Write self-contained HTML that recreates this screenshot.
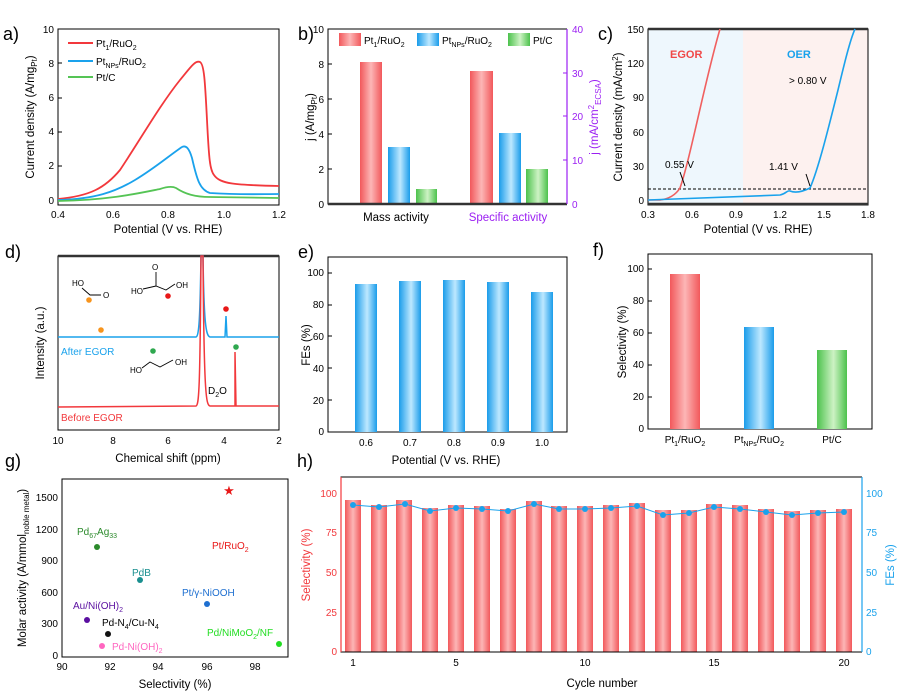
<!DOCTYPE html>
<html><head><meta charset="utf-8"><style>
body{margin:0;background:#fff}
svg{display:block;font-family:"Liberation Sans",sans-serif}
</style></head><body>
<svg width="912" height="699" viewBox="0 0 912 699" xmlns="http://www.w3.org/2000/svg">
<defs>
<linearGradient id="gr" x1="0" x2="1"><stop offset="0" stop-color="#f2585b"/><stop offset=".5" stop-color="#fcb6b6"/><stop offset="1" stop-color="#f2585b"/></linearGradient>
<linearGradient id="gb" x1="0" x2="1"><stop offset="0" stop-color="#1a9cea"/><stop offset=".55" stop-color="#bde8ff"/><stop offset="1" stop-color="#1a9cea"/></linearGradient>
<linearGradient id="gg" x1="0" x2="1"><stop offset="0" stop-color="#4cc24c"/><stop offset=".55" stop-color="#cdf2c4"/><stop offset="1" stop-color="#4cc24c"/></linearGradient>
</defs>
<g font-size="10" fill="#000">
<!-- ===== a ===== -->
<text x="3" y="40" font-size="18">a)</text>
<rect x="58" y="29" width="221" height="176" fill="none" stroke="#000"/>
<g text-anchor="end" font-size="10"><text x="54" y="204">0</text><text x="54" y="169">2</text><text x="54" y="135">4</text><text x="54" y="101">6</text><text x="54" y="67">8</text><text x="54" y="33">10</text></g>
<g stroke="#000"><line x1="58" y1="200" x2="62" y2="200"/><line x1="58" y1="166" x2="62" y2="166"/><line x1="58" y1="132" x2="62" y2="132"/><line x1="58" y1="98" x2="62" y2="98"/><line x1="58" y1="63" x2="62" y2="63"/></g>
<g text-anchor="middle" font-size="10"><text x="58" y="218">0.4</text><text x="113" y="218">0.6</text><text x="168" y="218">0.8</text><text x="224" y="218">1.0</text><text x="279" y="218">1.2</text></g>
<text x="168" y="233" text-anchor="middle" font-size="11.5">Potential (V vs. RHE)</text>
<text transform="translate(34,117) rotate(-90)" text-anchor="middle" font-size="11.5">Current density (A/mg<tspan font-size="8" dy="3">Pt</tspan><tspan dy="-3">)</tspan></text>
<path d="M58,199 C90,196 105,188 120,170 C140,140 160,105 180,80 C190,68 195,60 200,62 C204,64 205,80 207,120 C209,160 210,170 214,175 C220,184 235,185 279,186" fill="none" stroke="#f2383c" stroke-width="1.8"/>
<path d="M58,200 C95,199 115,192 135,180 C155,168 170,155 182,147 C186,145 189,148 192,158 C197,180 200,190 210,193 C240,195 260,194 279,194" fill="none" stroke="#1aa2ec" stroke-width="1.8"/>
<path d="M58,201 C110,200 140,193 160,189 C166,187 172,186 176,188 C185,194 195,197 210,197 L279,198" fill="none" stroke="#55c455" stroke-width="1.8"/>
<line x1="68" y1="43" x2="93" y2="43" stroke="#f2383c" stroke-width="2"/><text x="96" y="47">Pt<tspan font-size="7" dy="3">1</tspan><tspan dy="-3">/RuO</tspan><tspan font-size="7" dy="3">2</tspan></text>
<line x1="68" y1="61" x2="93" y2="61" stroke="#1aa2ec" stroke-width="2"/><text x="96" y="65">Pt<tspan font-size="7" dy="3">NPs</tspan><tspan dy="-3">/RuO</tspan><tspan font-size="7" dy="3">2</tspan></text>
<line x1="68" y1="77" x2="93" y2="77" stroke="#55c455" stroke-width="2"/><text x="96" y="81">Pt/C</text>

<!-- ===== b ===== -->
<text x="298" y="40" font-size="18">b)</text>
<rect x="360" y="62" width="22" height="142" fill="url(#gr)"/>
<rect x="388" y="147" width="22" height="57" fill="url(#gb)"/>
<rect x="416" y="189" width="21" height="15" fill="url(#gg)"/>
<rect x="470" y="71" width="23" height="133" fill="url(#gr)"/>
<rect x="499" y="133" width="22" height="71" fill="url(#gb)"/>
<rect x="526" y="169" width="22" height="35" fill="url(#gg)"/>
<rect x="339" y="33" width="22" height="13" fill="url(#gr)"/><text x="364" y="44">Pt<tspan font-size="7" dy="3">1</tspan><tspan dy="-3">/RuO</tspan><tspan font-size="7" dy="3">2</tspan></text>
<rect x="417" y="33" width="22" height="13" fill="url(#gb)"/><text x="442" y="44">Pt<tspan font-size="7" dy="3">NPs</tspan><tspan dy="-3">/RuO</tspan><tspan font-size="7" dy="3">2</tspan></text>
<rect x="508" y="33" width="22" height="13" fill="url(#gg)"/><text x="533" y="44">Pt/C</text>
<polyline points="567,29 328,29 328,204 567,204" fill="none" stroke="#000"/>
<line x1="328" y1="204" x2="567" y2="204" stroke="#333" stroke-width="2.5"/>
<line x1="567" y1="29" x2="567" y2="204" stroke="#9b1ff2" stroke-width="1.2"/>
<g text-anchor="end" font-size="10"><text x="324" y="208">0</text><text x="324" y="173">2</text><text x="324" y="138">4</text><text x="324" y="103">6</text><text x="324" y="68">8</text><text x="324" y="33">10</text></g>
<g stroke="#000"><line x1="328" y1="169" x2="332" y2="169"/><line x1="328" y1="134" x2="332" y2="134"/><line x1="328" y1="99" x2="332" y2="99"/><line x1="328" y1="64" x2="332" y2="64"/></g>
<g font-size="10" fill="#9b1ff2"><text x="572" y="208">0</text><text x="572" y="164">10</text><text x="572" y="120">20</text><text x="572" y="77">30</text><text x="572" y="33">40</text></g>
<g stroke="#9b1ff2"><line x1="563" y1="160" x2="567" y2="160"/><line x1="563" y1="116" x2="567" y2="116"/><line x1="563" y1="73" x2="567" y2="73"/></g>
<text x="396" y="221" text-anchor="middle" font-size="11.5">Mass activity</text>
<text x="508" y="221" text-anchor="middle" font-size="11.5" fill="#9b1ff2">Specific activity</text>
<text transform="translate(314,117) rotate(-90)" text-anchor="middle" font-size="11.5">j (A/mg<tspan font-size="8" dy="3">Pt</tspan><tspan dy="-3">)</tspan></text>
<text transform="translate(598,117) rotate(-90)" text-anchor="middle" font-size="11.5" fill="#9b1ff2">j (mA/cm<tspan font-size="8" dy="-4">2</tspan><tspan font-size="8" dy="7">ECSA</tspan><tspan dy="-3">)</tspan></text>

<!-- ===== c ===== -->
<text x="598" y="40" font-size="18">c)</text>
<rect x="648" y="29" width="95" height="176" fill="#eef7fd"/>
<rect x="743" y="29" width="125" height="176" fill="#fdf1ef"/>
<rect x="648" y="29" width="220" height="176" fill="none" stroke="#000"/>
<line x1="648" y1="29" x2="868" y2="29" stroke="#333" stroke-width="2.5"/>
<line x1="648" y1="204" x2="868" y2="204" stroke="#333" stroke-width="2.5"/>
<line x1="648" y1="189" x2="868" y2="189" stroke="#000" stroke-dasharray="3,2"/>
<path d="M648,200 L660,200 C668,199 675,196 680,188 C690,160 705,80 720,29" fill="none" stroke="#f06060" stroke-width="1.6"/>
<path d="M648,200 C700,198 760,196 780,195 C786,194 787,190 790,191 C795,193 802,192 810,188 C818,170 828,130 838,90 C844,65 850,40 855,29" fill="none" stroke="#1aa2ec" stroke-width="1.6"/>
<g text-anchor="end" font-size="10"><text x="644" y="204">0</text><text x="644" y="170">30</text><text x="644" y="136">60</text><text x="644" y="101">90</text><text x="644" y="67">120</text><text x="644" y="33">150</text></g>
<g text-anchor="middle" font-size="10"><text x="648" y="218">0.3</text><text x="692" y="218">0.6</text><text x="736" y="218">0.9</text><text x="780" y="218">1.2</text><text x="824" y="218">1.5</text><text x="868" y="218">1.8</text></g>
<text x="758" y="233" text-anchor="middle" font-size="11.5">Potential (V vs. RHE)</text>
<text transform="translate(622,117) rotate(-90)" text-anchor="middle" font-size="11.5">Current density (mA/cm<tspan font-size="8" dy="-4">2</tspan><tspan dy="4">)</tspan></text>
<text x="670" y="58" font-size="11" font-weight="bold" fill="#f04848">EGOR</text>
<text x="787" y="58" font-size="11" font-weight="bold" fill="#1aa2ec">OER</text>
<text x="789" y="84" font-size="10">&gt; 0.80 V</text>
<text x="665" y="168" font-size="10">0.55 V</text>
<text x="769" y="170" font-size="10">1.41 V</text>
<line x1="680" y1="172" x2="685" y2="186" stroke="#000"/>
<line x1="806" y1="174" x2="810" y2="186" stroke="#000"/>

<!-- ===== d ===== -->
<text x="5" y="258" font-size="18">d)</text>
<rect x="58" y="256" width="221" height="174" fill="none" stroke="#000"/>
<line x1="58" y1="256" x2="279" y2="256" stroke="#333" stroke-width="2.5"/>
<path d="M58,337 L196,337 C199,336 200,320 201,256 L203,256 C204,325 206,336 210,337 L225,337 L226,316 L227,337 L279,337" fill="none" stroke="#1aa2ec" stroke-width="1.5"/>
<path d="M58,407 L196,406 C199,405 200,390 201,256 L203,256 C204,395 206,405 210,406 L235,406 L235,352 L236,406 L279,406" fill="none" stroke="#f2383c" stroke-width="1.5"/>
<g text-anchor="middle" font-size="10"><text x="58" y="444">10</text><text x="113" y="444">8</text><text x="168" y="444">6</text><text x="224" y="444">4</text><text x="279" y="444">2</text></g>
<text x="168" y="462" text-anchor="middle" font-size="11.5">Chemical shift (ppm)</text>
<text transform="translate(44,343) rotate(-90)" text-anchor="middle" font-size="11.5">Intensity (a.u.)</text>
<text x="61" y="355" font-size="10" fill="#1aa2ec">After EGOR</text>
<text x="61" y="421" font-size="10" fill="#f2383c">Before EGOR</text>
<text x="208" y="394" font-size="10">D<tspan font-size="7" dy="3">2</tspan><tspan dy="-3">O</tspan></text>
<circle cx="89" cy="300" r="2.8" fill="#f7941d"/><circle cx="101" cy="330" r="2.8" fill="#f7941d"/>
<circle cx="168" cy="296" r="2.8" fill="#e81818"/><circle cx="226" cy="309" r="2.8" fill="#e81818"/>
<circle cx="153" cy="351" r="2.8" fill="#2fa84f"/><circle cx="236" cy="347" r="2.8" fill="#2fa84f"/>
<g font-size="8"><text x="72" y="286">HO</text><text x="103" y="298">O</text>
<text x="152" y="270">O</text><text x="131" y="294">HO</text><text x="176" y="288">OH</text>
<text x="130" y="373">HO</text><text x="175" y="365">OH</text></g>
<g fill="none" stroke="#000" stroke-width="0.9"><path d="M82,288 L90,295 L101,295"/><path d="M156,272 L156,286 M143,289 L156,286 L166,290 L175,284"/><path d="M142,368 L150,362 L160,367 L173,360"/></g>

<!-- ===== e ===== -->
<text x="298" y="258" font-size="18">e)</text>
<rect x="328" y="257" width="239" height="175" fill="none" stroke="#000"/>
<rect x="355" y="284" width="22" height="148" fill="url(#gb)"/>
<rect x="399" y="281" width="22" height="151" fill="url(#gb)"/>
<rect x="443" y="280" width="22" height="152" fill="url(#gb)"/>
<rect x="487" y="282" width="22" height="150" fill="url(#gb)"/>
<rect x="531" y="292" width="22" height="140" fill="url(#gb)"/>
<g text-anchor="end" font-size="10"><text x="324" y="435">0</text><text x="324" y="404">20</text><text x="324" y="372">40</text><text x="324" y="340">60</text><text x="324" y="308">80</text><text x="324" y="276">100</text></g>
<g stroke="#000"><line x1="328" y1="400" x2="332" y2="400"/><line x1="328" y1="368" x2="332" y2="368"/><line x1="328" y1="336" x2="332" y2="336"/><line x1="328" y1="305" x2="332" y2="305"/><line x1="328" y1="273" x2="332" y2="273"/></g>
<g text-anchor="middle" font-size="10"><text x="366" y="446">0.6</text><text x="410" y="446">0.7</text><text x="454" y="446">0.8</text><text x="498" y="446">0.9</text><text x="542" y="446">1.0</text></g>
<text x="446" y="464" text-anchor="middle" font-size="11.5">Potential (V vs. RHE)</text>
<text transform="translate(310,345) rotate(-90)" text-anchor="middle" font-size="11.5">FEs (%)</text>

<!-- ===== f ===== -->
<text x="593" y="256" font-size="18">f)</text>
<rect x="648" y="254" width="224" height="175" fill="none" stroke="#000"/>
<rect x="670" y="274" width="30" height="155" fill="url(#gr)"/>
<rect x="744" y="327" width="30" height="102" fill="url(#gb)"/>
<rect x="817" y="350" width="30" height="79" fill="url(#gg)"/>
<g text-anchor="end" font-size="10"><text x="644" y="432">0</text><text x="644" y="400">20</text><text x="644" y="368">40</text><text x="644" y="336">60</text><text x="644" y="304">80</text><text x="644" y="272">100</text></g>
<g stroke="#000"><line x1="648" y1="397" x2="652" y2="397"/><line x1="648" y1="365" x2="652" y2="365"/><line x1="648" y1="333" x2="652" y2="333"/><line x1="648" y1="301" x2="652" y2="301"/><line x1="648" y1="269" x2="652" y2="269"/></g>
<g text-anchor="middle" font-size="10"><text x="685" y="443">Pt<tspan font-size="7" dy="3">1</tspan><tspan dy="-3">/RuO</tspan><tspan font-size="7" dy="3">2</tspan></text><text x="759" y="443">Pt<tspan font-size="7" dy="3">NPs</tspan><tspan dy="-3">/RuO</tspan><tspan font-size="7" dy="3">2</tspan></text><text x="832" y="443">Pt/C</text></g>
<text transform="translate(626,342) rotate(-90)" text-anchor="middle" font-size="11.5">Selectivity (%)</text>

<!-- ===== g ===== -->
<text x="5" y="467" font-size="18">g)</text>
<rect x="62" y="479" width="226" height="178" fill="none" stroke="#000"/>
<g text-anchor="end" font-size="10"><text x="58" y="659">0</text><text x="58" y="627">300</text><text x="58" y="596">600</text><text x="58" y="564">900</text><text x="58" y="533">1200</text><text x="58" y="501">1500</text></g>
<g text-anchor="middle" font-size="10"><text x="62" y="670">90</text><text x="110" y="670">92</text><text x="158" y="670">94</text><text x="207" y="670">96</text><text x="255" y="670">98</text></g>
<text x="175" y="688" text-anchor="middle" font-size="11.5">Selectivity (%)</text>
<text transform="translate(26,568) rotate(-90)" text-anchor="middle" font-size="11.5">Molar activity (A/mmol<tspan font-size="8" dy="3">noble metal</tspan><tspan dy="-3">)</tspan></text>
<text x="229" y="495" font-size="13" fill="#e81818" text-anchor="middle">★</text>
<text x="212" y="549" font-size="10" fill="#e81818">Pt/RuO<tspan font-size="7" dy="3">2</tspan></text>
<circle cx="97" cy="547" r="3" fill="#2b8a2b"/><text x="77" y="535" font-size="10" fill="#2b8a2b">Pd<tspan font-size="7" dy="3">67</tspan><tspan dy="-3">Ag</tspan><tspan font-size="7" dy="3">33</tspan></text>
<circle cx="140" cy="580" r="3" fill="#1a8f8f"/><text x="132" y="576" font-size="10" fill="#1a8f8f">PdB</text>
<circle cx="207" cy="604" r="3" fill="#1e6fd0"/><text x="182" y="596" font-size="10" fill="#1e6fd0">Pt/γ-NiOOH</text>
<circle cx="87" cy="620" r="3" fill="#5a0fa0"/><text x="73" y="609" font-size="10" fill="#5a0fa0">Au/Ni(OH)<tspan font-size="7" dy="3">2</tspan></text>
<circle cx="108" cy="634" r="3" fill="#111"/><text x="102" y="626" font-size="10">Pd-N<tspan font-size="7" dy="3">4</tspan><tspan dy="-3">/Cu-N</tspan><tspan font-size="7" dy="3">4</tspan></text>
<circle cx="102" cy="646" r="3" fill="#ff66c0"/><text x="112" y="650" font-size="10" fill="#ff66c0">Pd-Ni(OH)<tspan font-size="7" dy="3">2</tspan></text>
<circle cx="279" cy="644" r="3" fill="#22dd22"/><text x="207" y="636" font-size="10" fill="#22dd22">Pd/NiMoO<tspan font-size="7" dy="3">2</tspan><tspan dy="-3">/NF</tspan></text>

<!-- ===== h ===== -->
<text x="297" y="467" font-size="18">h)</text>
<g fill="url(#gr)">
<rect x="345" y="500" width="16" height="152"/><rect x="371" y="505" width="16" height="147"/><rect x="396" y="500" width="16" height="152"/><rect x="422" y="508" width="16" height="144"/><rect x="448" y="505" width="16" height="147"/><rect x="474" y="506" width="16" height="146"/><rect x="500" y="509" width="16" height="143"/><rect x="526" y="501" width="16" height="151"/><rect x="551" y="506" width="16" height="146"/><rect x="577" y="506" width="16" height="146"/><rect x="603" y="505" width="16" height="147"/><rect x="629" y="503" width="16" height="149"/><rect x="655" y="510" width="16" height="142"/><rect x="681" y="510" width="16" height="142"/><rect x="706" y="504" width="16" height="148"/><rect x="732" y="505" width="16" height="147"/><rect x="758" y="509" width="16" height="143"/><rect x="784" y="511" width="16" height="141"/><rect x="810" y="510" width="16" height="142"/><rect x="836" y="509" width="16" height="143"/>
</g>
<polyline points="353,505 379,507 405,504 430,511 456,508 482,509 508,511 534,504 559,509 585,509 611,508 637,506 663,515 689,513 714,507 740,509 766,512 792,515 818,513 844,512" fill="none" stroke="#1aa2ec" stroke-width="1"/>
<g fill="#1aa2ec">
<circle cx="353" cy="505" r="3"/><circle cx="379" cy="507" r="3"/><circle cx="405" cy="504" r="3"/><circle cx="430" cy="511" r="3"/><circle cx="456" cy="508" r="3"/><circle cx="482" cy="509" r="3"/><circle cx="508" cy="511" r="3"/><circle cx="534" cy="504" r="3"/><circle cx="559" cy="509" r="3"/><circle cx="585" cy="509" r="3"/><circle cx="611" cy="508" r="3"/><circle cx="637" cy="506" r="3"/><circle cx="663" cy="515" r="3"/><circle cx="689" cy="513" r="3"/><circle cx="714" cy="507" r="3"/><circle cx="740" cy="509" r="3"/><circle cx="766" cy="512" r="3"/><circle cx="792" cy="515" r="3"/><circle cx="818" cy="513" r="3"/><circle cx="844" cy="512" r="3"/></g>
<polyline points="862,477 341,477 341,652 862,652" fill="none" stroke="#000"/>
<line x1="341" y1="477" x2="341" y2="652" stroke="#f2383c" stroke-width="1.2"/>
<line x1="862" y1="477" x2="862" y2="652" stroke="#1aa2ec" stroke-width="1.2"/>
<g text-anchor="end" font-size="10" fill="#f2383c"><text x="337" y="655">0</text><text x="337" y="616">25</text><text x="337" y="576">50</text><text x="337" y="536">75</text><text x="337" y="497">100</text></g>
<g font-size="10" fill="#1aa2ec"><text x="866" y="655">0</text><text x="866" y="616">25</text><text x="866" y="576">50</text><text x="866" y="536">75</text><text x="866" y="497">100</text></g>
<g text-anchor="middle" font-size="10"><text x="353" y="666">1</text><text x="456" y="666">5</text><text x="585" y="666">10</text><text x="714" y="666">15</text><text x="844" y="666">20</text></g>
<text x="602" y="687" text-anchor="middle" font-size="11.5">Cycle number</text>
<text transform="translate(310,565) rotate(-90)" text-anchor="middle" font-size="11.5" fill="#f2383c">Selectivity (%)</text>
<text transform="translate(894,565) rotate(-90)" text-anchor="middle" font-size="11.5" fill="#1aa2ec">FEs (%)</text>
</g>
</svg>
</body></html>
